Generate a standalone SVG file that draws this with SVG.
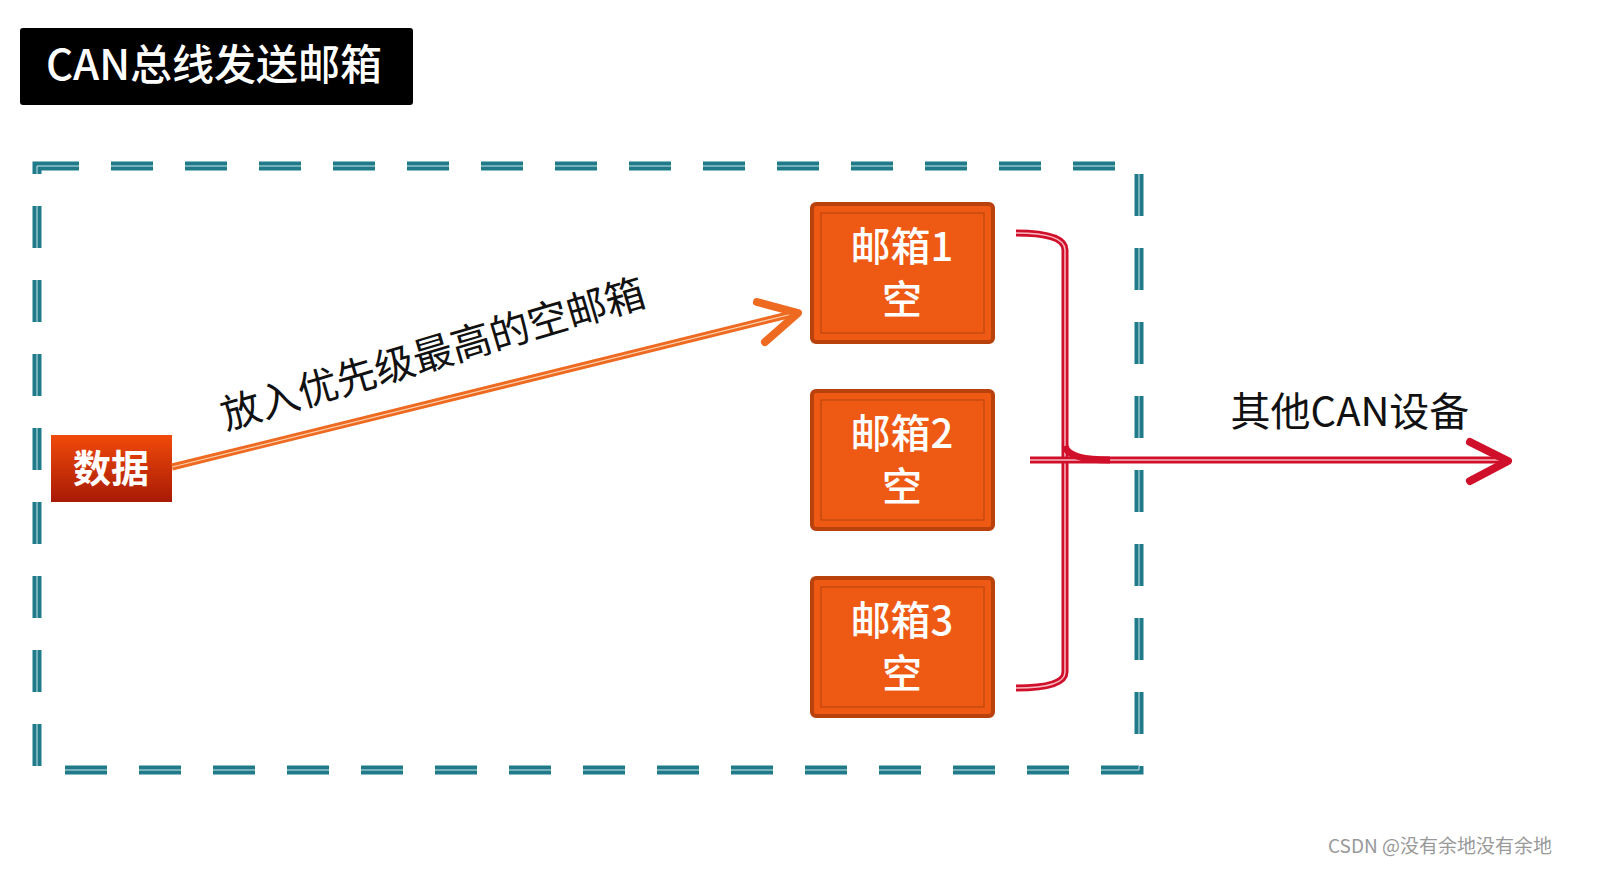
<svg xmlns="http://www.w3.org/2000/svg" width="1598" height="881" viewBox="0 0 1598 881">
<style>
.cjk{font-family:"Noto Sans CJK SC","Noto Sans",sans-serif}
.box{fill:#ee5a14;stroke:#b8410c;stroke-width:4}
.inner{fill:none;stroke:#c94a0f;stroke-width:1.5}
.bt{fill:#fff;font-size:40px;text-anchor:middle;font-weight:500}
.red{fill:none;stroke:#d0102a;stroke-width:7}
.redl{fill:none;stroke:#f7b8c0;stroke-width:1.5}
</style>
<defs>
<linearGradient id="g" x1="0" y1="0" x2="0" y2="1"><stop offset="0" stop-color="#f04a0a"/><stop offset="1" stop-color="#a81a05"/></linearGradient>
</defs>
<rect width="1598" height="881" fill="#fff"/>
<g id="title"><rect x="20" y="28" width="393" height="77" rx="3" fill="#000"/>
<text x="214" y="80" class="cjk" font-size="42" fill="#fff" text-anchor="middle" font-weight="500">CAN总线发送邮箱</text></g>
<g id="frame">
<rect x="37" y="166" width="1102" height="604" fill="none" stroke="#1f7a8a" stroke-width="9" stroke-dasharray="42,32"/>
<rect x="37" y="166" width="1102" height="604" fill="none" stroke="#cfe6ea" stroke-width="1" stroke-dasharray="42,32"/>
</g>
<g id="data"><rect x="51" y="435" width="121" height="67" fill="url(#g)"/>
<text x="111" y="482" class="cjk" font-size="38" fill="#fff" text-anchor="middle" font-weight="bold">数据</text></g>
<g id="mb1"><rect x="812" y="204" width="181" height="138" rx="4" class="box"/><rect x="821" y="213" width="163" height="120" class="inner"/>
<text x="902" y="261" class="cjk bt">邮箱1</text><text x="902" y="314" class="cjk bt">空</text></g>
<g id="mb2"><rect x="812" y="391" width="181" height="138" rx="4" class="box"/><rect x="821" y="400" width="163" height="120" class="inner"/>
<text x="902" y="448" class="cjk bt">邮箱2</text><text x="902" y="501" class="cjk bt">空</text></g>
<g id="mb3"><rect x="812" y="578" width="181" height="138" rx="4" class="box"/><rect x="821" y="587" width="163" height="120" class="inner"/>
<text x="902" y="635" class="cjk bt">邮箱3</text><text x="902" y="688" class="cjk bt">空</text></g>
<g id="connectors">
<line x1="172" y1="467" x2="796" y2="313" stroke="#ee6a20" stroke-width="7"/>
<line x1="172" y1="467" x2="796" y2="313" stroke="#fbd0b0" stroke-width="1.2"/>
<polyline points="757,302 798,313 765,342" fill="none" stroke="#ee6a20" stroke-width="8" stroke-linecap="round" stroke-linejoin="round"/>
<path d="M1016,233 Q1065,233 1065,250 V672 Q1065,688 1016,688" class="red"/>
<path d="M1016,233 Q1065,233 1065,250 V672 Q1065,688 1016,688" class="redl"/>
<line x1="1030" y1="460" x2="1505" y2="460" class="red"/>
<line x1="1030" y1="460" x2="1505" y2="460" class="redl"/>
<path d="M1065,446 Q1068,460 1110,460" class="red"/>
<polyline points="1470,442 1508,461 1470,481" fill="none" stroke="#d0102a" stroke-width="8" stroke-linecap="round" stroke-linejoin="round"/>
</g>
<text transform="translate(226,430) rotate(-16.5)" class="cjk" font-size="40" fill="#111">放入优先级最高的空邮箱</text>
<text x="1350" y="426" class="cjk" font-size="40" fill="#111" text-anchor="middle">其他CAN设备</text>
<text x="1552" y="853" class="cjk" font-size="19" fill="#999" text-anchor="end">CSDN @没有余地没有余地</text>
</svg>
